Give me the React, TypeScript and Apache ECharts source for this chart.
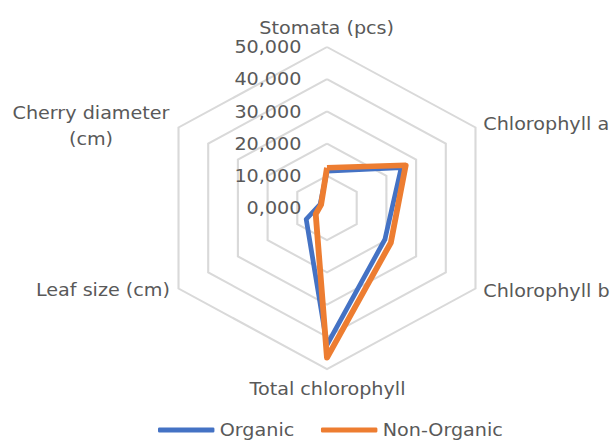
import React, { useEffect, useRef } from 'react';
import * as echarts from 'echarts';

// Indicators in the reference order (clockwise from the top)
const indicators = [
  'Stomata (pcs)',
  'Chlorophyll a',
  'Chlorophyll b',
  'Total chlorophyll',
  'Leaf size (cm)',
  'Cherry diameter\n(cm)',
];
const organic = [11.4, 25.0, 19.5, 42.5, 7.0, 2.3];
const nonOrganic = [12.5, 26.5, 21.5, 46.5, 3.8, 2.0];
const seriesNames = ['Organic', 'Non-Organic'];
const axisMin = 0;
const axisMax = 50;
const splitCount = 5;

const FONT = 'DejaVu Sans';
const TEXT = '#595959';
const CX = 327;
const CY = 208;
const R = 161;
const STRETCH = 1.065;
// convert a horizontal position in the picture into chart coordinates
const ux = (x: number) => CX + (x - CX) / STRETCH;

// ECharts lays out radar indicators counter-clockwise; reorder for clockwise display
const order = [0, 5, 4, 3, 2, 1];

// label placement for each indicator name (picture coordinates)
const namePlaces = [
  { x: 326.7, y: 27.5, align: 'center' },
  { x: 483.3, y: 124, align: 'left' },
  { x: 483.3, y: 291, align: 'left' },
  { x: 327.5, y: 389, align: 'center' },
  { x: 170, y: 290, align: 'right' },
  { x: 91, y: 126, align: 'center' },
];

export default function App() {
  const ref = useRef<HTMLDivElement>(null);
  useEffect(() => {
    const chart = echarts.init(ref.current!, null, { renderer: 'svg' });
    const option: any = {
      animation: false,
      backgroundColor: '#ffffff',
      legend: {
        data: seriesNames,
        left: ux(158),
        top: 421,
        padding: 0,
        itemGap: 25,
        itemWidth: 53,
        itemHeight: 5,
        icon: 'roundRect',
        textStyle: { color: TEXT, fontSize: 18, fontFamily: FONT },
      },
      radar: {
        center: [CX, CY],
        radius: R,
        startAngle: 90,
        shape: 'polygon',
        splitNumber: splitCount,
        indicator: order.map((i, k) => ({
          name: indicators[i],
          min: axisMin,
          max: axisMax,
          axisLabel: { show: k === 0 },
        })),
        axisName: { show: false },
        axisLine: { show: false },
        axisTick: { show: false },
        splitArea: { show: false },
        splitLine: { lineStyle: { color: '#d9d9d9', width: 2 } },
        axisLabel: {
          show: false,
          margin: 24,
          color: TEXT,
          fontSize: 18,
          fontFamily: FONT,
          formatter: (v: number) => v.toFixed(3).replace('.', ','),
        },
      },
      graphic: indicators.map((name, i) => ({
        type: 'text',
        x: ux(namePlaces[i].x),
        y: namePlaces[i].y,
        silent: true,
        style: {
          text: name,
          fill: TEXT,
          fontSize: 18,
          fontFamily: FONT,
          align: namePlaces[i].align,
          verticalAlign: 'middle',
          lineHeight: 26,
        },
      })),
      series: [
        {
          type: 'radar',
          symbol: 'none',
          data: [
            {
              name: seriesNames[0],
              value: order.map((i) => organic[i]),
              lineStyle: { color: '#4472C4', width: 4.5 },
              itemStyle: { color: '#4472C4' },
            },
            {
              name: seriesNames[1],
              value: order.map((i) => nonOrganic[i]),
              lineStyle: { color: '#ED7D31', width: 5.5 },
              itemStyle: { color: '#ED7D31' },
            },
          ],
        },
      ],
    };
    chart.setOption(option);
    return () => chart.dispose();
  }, []);
  return (
    <div
      ref={ref}
      style={{
        position: 'fixed',
        left: 0,
        top: 0,
        width: 614,
        height: 444,
        transform: `scaleX(${STRETCH})`,
        transformOrigin: `${CX}px 0px`,
      }}
    />
  );
}
